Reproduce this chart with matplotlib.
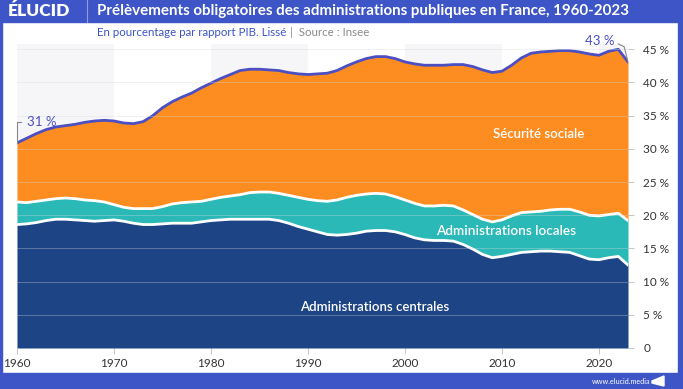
import matplotlib.pyplot as plt
import numpy as np
from matplotlib.patches import Rectangle, Polygon

years = list(range(1960, 2024))

# top of "Administrations centrales" (% du PIB)
centrales = [18.6, 18.7, 18.9, 19.2, 19.4, 19.4, 19.3, 19.2, 19.1, 19.2,
             19.3, 19.1, 18.8, 18.6, 18.6, 18.7, 18.8, 18.8, 18.8, 19.0,
             19.2, 19.3, 19.4, 19.4, 19.4, 19.4, 19.4, 19.2, 18.8, 18.3,
             17.9, 17.5, 17.1, 17.0, 17.1, 17.3, 17.6, 17.7, 17.7, 17.5,
             17.1, 16.6, 16.3, 16.2, 16.2, 16.1, 15.6, 14.9, 14.1, 13.6,
             13.8, 14.1, 14.4, 14.5, 14.6, 14.6, 14.5, 14.4, 13.9, 13.4,
             13.3, 13.6, 13.8, 12.5]

# cumulative top of centrales + locales
cumul_locales = [22.0, 21.9, 22.1, 22.3, 22.5, 22.6, 22.5, 22.3, 22.2, 22.0,
                 21.6, 21.2, 21.0, 21.0, 21.0, 21.3, 21.7, 21.9, 22.0, 22.1,
                 22.4, 22.7, 22.9, 23.1, 23.4, 23.5, 23.5, 23.3, 23.0, 22.7,
                 22.4, 22.2, 22.1, 22.3, 22.7, 23.0, 23.2, 23.3, 23.2, 22.8,
                 22.3, 21.8, 21.4, 21.4, 21.5, 21.4, 20.8, 20.1, 19.4, 19.0,
                 19.3, 19.9, 20.4, 20.5, 20.6, 20.8, 20.9, 20.9, 20.5, 20.0,
                 19.9, 20.1, 20.3, 19.2]

# total prelevements obligatoires
total = [30.9, 31.6, 32.3, 32.9, 33.3, 33.5, 33.7, 34.0, 34.2, 34.3,
         34.2, 33.9, 33.8, 34.1, 35.0, 36.2, 37.1, 37.8, 38.4, 39.2,
         39.9, 40.6, 41.2, 41.8, 42.0, 42.0, 41.9, 41.8, 41.5, 41.3,
         41.2, 41.3, 41.4, 41.8, 42.5, 43.1, 43.6, 43.9, 43.9, 43.6,
         43.1, 42.8, 42.6, 42.6, 42.6, 42.7, 42.7, 42.4, 41.9, 41.5,
         41.7, 42.6, 43.7, 44.4, 44.6, 44.7, 44.8, 44.8, 44.6, 44.3,
         44.1, 44.7, 45.0, 43.1]

yticks = [0, 5, 10, 15, 20, 25, 30, 35, 40, 45]
ytick_labels = ["0"] + ["%d %%" % v for v in yticks[1:]]
xticks = [1960, 1970, 1980, 1990, 2000, 2010, 2020]

BLUE = "#3d55c6"
NAVY = "#1d4485"
TEAL = "#2bb9b7"
ORANGE = "#fd8d21"
LINE = "#4b4fc2"

plt.rcParams['font.family'] = ['Lato', 'DejaVu Sans']

W, H = 683, 389
fig = plt.figure(figsize=(W / 100, H / 100), dpi=100)

# frame: title bar, bottom bar, side borders
fig.patches.append(Rectangle((0, 1 - 22 / H), 1, 22 / H, transform=fig.transFigure,
                             color=BLUE, zorder=0))
fig.patches.append(Rectangle((0, 0), 1, 16 / H, transform=fig.transFigure,
                             color=BLUE, zorder=0))
fig.patches.append(Rectangle((0, 0), 2 / W, 1, transform=fig.transFigure,
                             color=BLUE, zorder=0))
fig.patches.append(Rectangle((678 / W, 0), 4 / W, 1, transform=fig.transFigure,
                             color=BLUE, zorder=0))
fig.lines.append(plt.Line2D([87 / W, 87 / W], [1 - 22 / H, 1], transform=fig.transFigure,
                            color="#8f9de0", lw=0.8))
fig.patches.append(Polygon([(652 / W, 8 / H), (664 / W, 13 / H),
                            (664 / W, 3 / H), (652 / W, 6 / H)],
                           closed=True, transform=fig.transFigure, color="white"))

fig.text(8 / W, 1 - 11 / H, "ÉLUCID", color="white", fontsize=12.5,
         fontweight="heavy", va="center", ha="left")
fig.text(97 / W, 1 - 11.5 / H,
         "Prélèvements obligatoires des administrations publiques en France, 1960-2023",
         color="white", fontsize=10.9, fontweight="bold", va="center", ha="left")
fig.text(97 / W, 1 - 33 / H, "En pourcentage par rapport PIB. Lissé", color=BLUE,
         fontsize=8.3, va="center", ha="left")
fig.text(290 / W, 1 - 33 / H, "|  Source : Insee", color="#8a8a8a",
         fontsize=8.3, va="center", ha="left")
fig.text(650 / W, 8 / H, "www.elucid.media", color="white", fontsize=5.2,
         va="center", ha="right")

ax = fig.add_axes([17 / W, 1 - 348 / H, (628 - 17) / W, (348 - 44) / H])
ax.set_xlim(1960, 2023)
ax.set_ylim(0, 45.8)

# alternating decade bands
for start in [1960, 1980, 2000, 2020]:
    ax.axvspan(start, min(start + 10, 2023), color="#f6f6f8", zorder=0, lw=0)

x = np.array(years)
c = np.array(centrales)
l = np.array(cumul_locales)
t = np.array(total)

ax.fill_between(x, 0, c, color=NAVY, lw=0, zorder=2)
ax.fill_between(x, c, l, color=TEAL, lw=0, zorder=2)
ax.fill_between(x, l, t, color=ORANGE, lw=0, zorder=2)
ax.plot(x, c, color="white", lw=2, zorder=3)
ax.plot(x, l, color="white", lw=2, zorder=3)
ax.plot(x, t, color=LINE, lw=2, zorder=4)

for v in yticks[1:]:
    ax.axhline(v, color="#d8d8d8", lw=0.7, alpha=0.35, zorder=5)

ax.text(2013.8, 32.3, "Sécurité sociale", color="white", fontsize=9.5,
        fontweight="semibold", ha="center", va="center", zorder=6)
ax.text(2010.4, 17.7, "Administrations locales", color="white", fontsize=9.8,
        fontweight="semibold", ha="center", va="center", zorder=6)
ax.text(1996.9, 6.2, "Administrations centrales", color="white", fontsize=9.5,
        fontweight="semibold", ha="center", va="center", zorder=6)

# value labels with leader lines
ax.plot([1960.05, 1960.05, 1960.4], [t[0], 34.0, 34.0], color="#888888", lw=0.8,
        zorder=6, clip_on=False)
ax.text(1961.0, 34.0, "31 %", color=LINE, fontsize=9.5, ha="left", va="center",
        zorder=6)
ax.plot([2023, 2022.6, 2022.0], [t[-1], 45.4, 45.8], color="#888888", lw=0.8,
        zorder=6, clip_on=False)
ax.text(2021.6, 46.2, "43 %", color=LINE, fontsize=9.5, ha="right", va="center",
        zorder=6, clip_on=False)

ax.yaxis.tick_right()
ax.set_yticks(yticks)
ax.set_yticklabels(ytick_labels)
ax.set_xticks(xticks)
ax.set_xticklabels([str(v) for v in xticks])
ax.tick_params(axis="y", length=4, width=0.6, color="#bbbbbb", pad=7,
               labelsize=8.5, labelcolor="#333333")
ax.tick_params(axis="x", length=4, width=0.6, color="#bbbbbb", pad=3,
               labelsize=8.5, labelcolor="#333333")
for s in ax.spines.values():
    s.set_visible(False)

fig.savefig("out.png", dpi=100)
